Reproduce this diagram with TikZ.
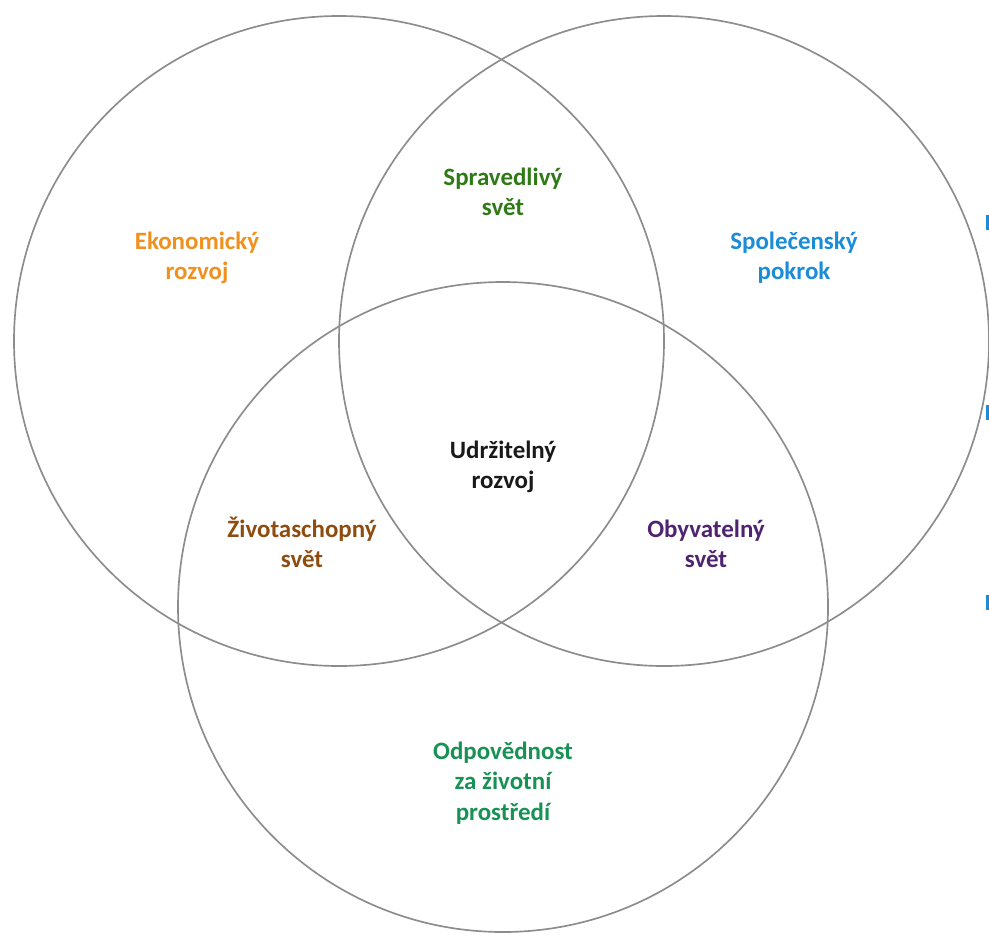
\documentclass[tikz,border=0pt]{standalone}
\usepackage{fontspec}
\setmainfont{Carlito}
\usepackage{xcolor}
\usetikzlibrary{positioning}
\definecolor{ekonorange}{HTML}{F0901E}
\definecolor{spravgreen}{HTML}{2F7A17}
\definecolor{spolblue}{HTML}{1A8CD8}
\definecolor{zivotbrown}{HTML}{8E4C0E}
\definecolor{obyvpurple}{HTML}{4E2370}
\definecolor{odpovgreen}{HTML}{179254}
\definecolor{ringgray}{HTML}{8C8C8C}

\begin{document}
\begin{tikzpicture}[x=0.02cm,y=-0.02cm,
		ring/.style={draw=ringgray, line width=0.95pt},
		label/.style={align=center, font=\fontsize{14.2}{17.2}\selectfont\bfseries}]
				\useasboundingbox (0,0) rectangle (989,936);
				
				% draw circles
				\coordinate (cL) at (339,341);
				\coordinate (cR) at (664,341);
				\coordinate (cB) at (503,607);
				\draw[ring] (cL) circle (325);
				\draw[ring] (cR) circle (325);
				\draw[ring] (cB) circle (325);
				
				% draw labels
				\node[label, text=ekonorange] (ekon) at (197,258) {Ekonomický\\rozvoj};
				\node[label, text=spravgreen] (sprav) at (503,192) {Spravedlivý\\svět};
				\node[label, text=spolblue] (spol) at (794,258) {Společenský\\pokrok};
				\node[label, text=black!90] (udrz) at (503,467) {Udržitelný\\rozvoj};
				\node[label, text=zivotbrown] (zivot) at (302,542) {Životaschopný\\svět};
				\node[label, text=obyvpurple] (obyv) at (706,544) {Obyvatelný\\svět};
				\node[label, text=odpovgreen] (odpov) at (503,783) {Odpovědnost\\za životní\\prostředí};
				
				% draw edge marks
				\foreach \y in {215,405,595}
					\fill[spolblue] (986,\y) rectangle (989,\y+15);
			\end{tikzpicture}
\end{document}
